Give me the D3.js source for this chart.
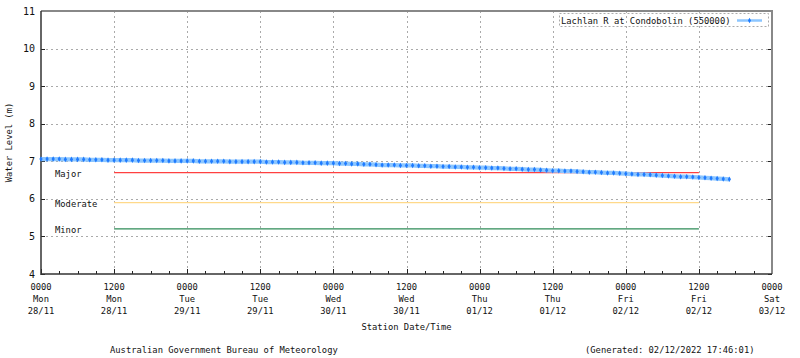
<!DOCTYPE html>
<html>
<head>
<meta charset="utf-8">
<script src="https://cdn.jsdelivr.net/npm/d3@7"></script>
<style>
  body { margin: 0; background: #fff; }
  svg text { font-family: "DejaVu Sans Mono", "Liberation Mono", monospace; font-size: 8.8px; fill: #111; }
</style>
</head>
<body>
<svg id="chart" width="800" height="358"></svg>
<script>
// ---- data ----
const seriesName = "Lachlan R at Condobolin (550000)";
const startTime = new Date(2022, 10, 28, 0, 0); // 0000 Mon 28/11
const stepHours = 1;
const levels = [
  7.06, 7.06, 7.06, 7.06, 7.05, 7.05, 7.05, 7.05, 7.04, 7.04, 7.04, 7.03,
  7.03, 7.03, 7.03, 7.03, 7.02, 7.02, 7.02, 7.02, 7.02, 7.01, 7.01, 7.01,
  7.01, 7.01, 7.00, 7.00, 7.00, 7.00, 7.00, 6.99, 6.99, 6.99, 6.99, 6.99,
  6.99, 6.98, 6.98, 6.98, 6.97, 6.97, 6.97, 6.96, 6.96, 6.96, 6.95, 6.95,
  6.95, 6.94, 6.94, 6.93, 6.93, 6.92, 6.92, 6.91, 6.90, 6.90, 6.90, 6.89,
  6.89, 6.89, 6.88, 6.88, 6.87, 6.87, 6.86, 6.86, 6.85, 6.85, 6.84, 6.84,
  6.83, 6.83, 6.82, 6.82, 6.81, 6.80, 6.80, 6.79, 6.78, 6.78, 6.77, 6.76,
  6.75, 6.75, 6.74, 6.74, 6.73, 6.72, 6.71, 6.71, 6.70, 6.69, 6.69, 6.68,
  6.67, 6.66, 6.65, 6.65, 6.64, 6.63, 6.62, 6.61, 6.60, 6.59, 6.59, 6.58,
  6.57, 6.56, 6.55, 6.54, 6.53, 6.52
];
const floodNames = ["Major", "Moderate", "Minor"];
const floodLevels = [6.7, 5.9, 5.2];
const floodColors = ["#ff4040", "#ffd98a", "#2e8b57"];
const floodStart = new Date(2022, 10, 28, 12, 0);
const floodEnd = new Date(2022, 11, 2, 12, 0);
const xDomain = [new Date(2022, 10, 28, 0, 0), new Date(2022, 11, 3, 0, 0)];
const yDomain = [4, 11];
const yTicks = [4, 5, 6, 7, 8, 9, 10, 11];
const xTickTimes = [
  new Date(2022,10,28,0), new Date(2022,10,28,12), new Date(2022,10,29,0), new Date(2022,10,29,12),
  new Date(2022,10,30,0), new Date(2022,10,30,12), new Date(2022,11,1,0), new Date(2022,11,1,12),
  new Date(2022,11,2,0), new Date(2022,11,2,12), new Date(2022,11,3,0)
];
const xTickLabels = [
  ["0000","Mon","28/11"], ["1200","Mon","28/11"], ["0000","Tue","29/11"], ["1200","Tue","29/11"],
  ["0000","Wed","30/11"], ["1200","Wed","30/11"], ["0000","Thu","01/12"], ["1200","Thu","01/12"],
  ["0000","Fri","02/12"], ["1200","Fri","02/12"], ["0000","Sat","03/12"]
];
const yLabel = "Water Level (m)";
const xLabel = "Station Date/Time";
const footerLeft = "Australian Government Bureau of Meteorology";
const footerRight = "(Generated: 02/12/2022 17:46:01)";

// ---- layout ----
const L = 41, R = 772, T = 11, B = 274;
const svg = d3.select("#chart");
const x = d3.scaleTime().domain(xDomain).range([L, R]);
const y = d3.scaleLinear().domain(yDomain).range([B, T]);

const points = levels.map((v, i) => ({ t: d3.timeHour.offset(startTime, i * stepHours), v }));

// grid
const grid = svg.append("g").attr("stroke", "#aaa").attr("stroke-dasharray", "2,3").attr("stroke-width", 1);
yTicks.filter(d => d > yDomain[0] && d < yDomain[1]).forEach(d => {
  grid.append("line").attr("x1", L).attr("x2", R).attr("y1", Math.round(y(d)) + 0.5).attr("y2", Math.round(y(d)) + 0.5);
});
xTickTimes.slice(1, -1).forEach(d => {
  grid.append("line").attr("y1", T).attr("y2", B).attr("x1", Math.round(x(d)) + 0.5).attr("x2", Math.round(x(d)) + 0.5);
});

// minor ticks (every 3h) on bottom axis, inward
const minor = d3.timeHour.every(3).range(xDomain[0], d3.timeHour.offset(xDomain[1], 1));
svg.append("g").selectAll("line").data(minor).join("line")
  .attr("x1", d => Math.round(x(d)) + 0.5).attr("x2", d => Math.round(x(d)) + 0.5)
  .attr("y1", B).attr("y2", d => (d.getHours() % 12 === 0) ? B - 5 : B - 3)
  .attr("stroke", "#222").attr("stroke-width", 1);

// y ticks left and right, inward
const yt = svg.append("g").attr("stroke", "#222").attr("stroke-width", 1);
yTicks.forEach(d => {
  const yy = Math.round(y(d)) + 0.5;
  yt.append("line").attr("x1", L).attr("x2", L + 4).attr("y1", yy).attr("y2", yy);
  yt.append("line").attr("x1", R - 4).attr("x2", R).attr("y1", yy).attr("y2", yy);
});

// frame
svg.append("line").attr("x1", L).attr("x2", R + 1).attr("y1", T).attr("y2", T).attr("stroke", "#888").attr("stroke-width", 2);
svg.append("line").attr("x1", R).attr("x2", R).attr("y1", T).attr("y2", B).attr("stroke", "#888").attr("stroke-width", 2);
svg.append("line").attr("x1", L).attr("x2", L).attr("y1", T).attr("y2", B + 1).attr("stroke", "#333").attr("stroke-width", 1.5);
svg.append("line").attr("x1", L).attr("x2", R).attr("y1", B).attr("y2", B).attr("stroke", "#333").attr("stroke-width", 1.5);

// y tick labels
svg.append("g").selectAll("text").data(yTicks).join("text")
  .attr("x", 35).attr("y", d => y(d)).attr("dy", "0.35em").attr("text-anchor", "end")
  .style("font-size", "10px").text(d => d);

// x tick labels
const xl = svg.append("g");
xTickTimes.forEach((d, i) => {
  xTickLabels[i].forEach((s, j) => {
    xl.append("text").attr("x", x(d)).attr("y", 287 + j * 12).attr("dy", "0.35em")
      .attr("text-anchor", "middle").text(s);
  });
});

// axis titles
svg.append("text").attr("transform", `translate(9,${(T + B) / 2}) rotate(-90)`)
  .attr("text-anchor", "middle").attr("dy", "0.35em").text(yLabel);
svg.append("text").attr("x", (L + R) / 2).attr("y", 327).attr("dy", "0.35em")
  .attr("text-anchor", "middle").text(xLabel);

// flood level lines
floodLevels.forEach((lv, i) => {
  svg.append("line").attr("x1", x(floodStart)).attr("x2", x(floodEnd))
    .attr("y1", y(lv)).attr("y2", y(lv)).attr("stroke", floodColors[i]).attr("stroke-width", 1.3);
  svg.append("text").attr("x", 55).attr("y", y(lv) + 1.5).attr("dy", "0.35em").text(floodNames[i]);
});

// series
const line = d3.line().x(d => x(d.t)).y(d => y(d.v));
svg.append("path").datum(points).attr("d", line)
  .attr("fill", "none").attr("stroke", "#8cc6ff").attr("stroke-width", 4.2).attr("stroke-linejoin", "round");
svg.append("g").selectAll("path").data(points).join("path")
  .attr("d", d3.symbol(d3.symbolDiamond, 9))
  .attr("transform", d => `translate(${x(d.t)},${y(d.v)})`)
  .attr("fill", "#1f7bff");

// legend
svg.append("rect").attr("x", 559.5).attr("y", 13.5).attr("width", 209).attr("height", 13)
  .attr("fill", "none").attr("stroke", "#aaa").attr("stroke-dasharray", "2,2");
svg.append("text").attr("x", 561).attr("y", 20.5).attr("dy", "0.35em").text(seriesName);
svg.append("line").attr("x1", 737).attr("x2", 762).attr("y1", 20.5).attr("y2", 20.5)
  .attr("stroke", "#8cc6ff").attr("stroke-width", 2.5);
svg.append("path").attr("d", d3.symbol(d3.symbolDiamond, 8)).attr("transform", "translate(749.5,20.5)").attr("fill", "#1f7bff");

// footer
svg.append("text").attr("x", 110).attr("y", 350).attr("dy", "0.35em").text(footerLeft);
svg.append("text").attr("x", 585).attr("y", 350).attr("dy", "0.35em").text(footerRight);
</script>
</body>
</html>
